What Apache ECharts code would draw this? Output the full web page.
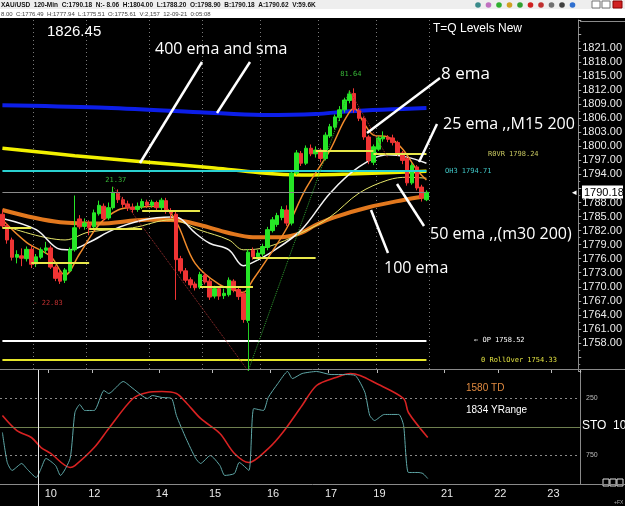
<!DOCTYPE html>
<html><head><meta charset="utf-8">
<script src="https://cdn.jsdelivr.net/npm/echarts@6/dist/echarts.min.js"></script>
<style>html,body{margin:0;padding:0;background:#000;}#c{width:625px;height:506px;}</style>
</head><body><div id="c"></div>
<script>
// ---------- data ----------
const slotCount = 120;
const slots = Array.from({length: slotCount}, (_, i) => String(i));
// [open, close, low, high] for each 120-min bar
const candles = [
[1785.5,1783.0,1782.5,1786.5],[1783.0,1780.0,1779.2,1783.6],[1780.0,1776.3,1775.6,1780.5],[1776.3,1776.9,1775.0,1777.8],
[1776.6,1776.1,1774.4,1778.2],[1776.0,1778.0,1775.4,1778.6],[1778.0,1774.8,1774.0,1778.8],[1774.9,1776.4,1774.2,1777.0],
[1776.3,1777.9,1775.9,1778.4],[1777.8,1778.3,1777.0,1779.6],[1778.3,1774.2,1773.8,1778.8],[1774.2,1771.8,1771.2,1774.6],
[1773.0,1771.2,1770.6,1773.6],[1771.4,1773.6,1770.8,1774.0],[1773.4,1777.9,1773.0,1778.4],[1777.9,1782.6,1777.5,1789.5],
[1784.5,1782.8,1782.3,1785.3],[1782.9,1783.6,1782.2,1784.6],[1783.5,1782.6,1781.0,1784.2],[1782.8,1785.8,1782.4,1786.5],
[1785.6,1787.4,1785.2,1788.4],[1787.2,1784.6,1784.0,1787.8],[1784.7,1786.9,1784.3,1788.0],[1786.9,1790.2,1786.5,1791.37],
[1790.0,1788.6,1787.9,1790.8],[1788.6,1787.6,1786.9,1789.2],[1787.7,1786.9,1786.2,1788.4],[1787.0,1786.5,1785.8,1787.8],
[1786.5,1787.2,1786.0,1788.0],[1787.1,1788.2,1786.6,1788.8],[1788.1,1787.4,1786.8,1788.6],[1787.4,1788.1,1786.9,1788.6],
[1788.0,1786.9,1786.3,1788.4],[1786.9,1788.5,1786.4,1789.0],[1788.4,1786.1,1785.6,1789.0],[1786.2,1785.7,1784.6,1786.8],
[1785.5,1775.8,1767.2,1786.0],[1776.0,1773.4,1772.8,1776.6],[1773.4,1771.4,1770.9,1774.0],[1771.5,1770.4,1769.7,1772.0],
[1770.6,1769.8,1769.2,1771.1],[1769.9,1772.6,1769.5,1773.2],[1772.5,1771.0,1770.5,1773.0],[1771.2,1767.8,1767.2,1771.8],
[1768.0,1769.6,1767.5,1770.2],[1769.6,1768.0,1767.2,1770.0],[1768.1,1768.6,1767.4,1769.6],[1768.3,1771.4,1767.9,1772.0],
[1771.2,1769.3,1768.8,1771.6],[1769.4,1767.9,1767.2,1770.0],[1768.6,1763.0,1762.3,1769.0],[1762.8,1777.4,1762.3,1778.0],
[1777.8,1776.4,1775.8,1778.4],[1776.4,1777.2,1775.7,1777.9],[1777.0,1778.6,1776.5,1779.2],[1778.4,1782.2,1777.8,1782.8],
[1782.0,1784.3,1781.6,1784.9],[1783.3,1785.2,1782.8,1785.8],[1784.8,1786.5,1784.2,1787.2],[1786.4,1783.6,1783.0,1787.4],
[1783.6,1794.3,1783.1,1794.8],[1794.3,1798.6,1793.9,1799.2],[1798.5,1796.4,1795.8,1799.0],[1796.4,1799.6,1796.0,1800.2],
[1799.6,1798.4,1797.9,1800.4],[1798.4,1799.2,1797.6,1800.0],[1799.2,1797.4,1796.6,1799.6],[1797.4,1802.4,1797.0,1803.0],
[1802.2,1804.2,1801.8,1804.8],[1804.1,1806.3,1803.6,1806.8],[1806.2,1807.8,1805.4,1808.6],[1807.8,1809.9,1807.2,1810.4],
[1809.8,1811.2,1809.2,1812.0],[1811.3,1807.8,1807.2,1812.4],[1807.6,1806.0,1805.4,1808.2],[1806.0,1802.0,1801.4,1806.4],
[1802.0,1797.0,1796.2,1802.4],[1796.6,1799.9,1796.0,1800.4],[1799.4,1801.8,1799.0,1802.2],[1801.6,1802.0,1801.0,1803.2],
[1801.9,1801.5,1800.9,1802.4],[1801.8,1800.8,1800.2,1802.5],[1800.8,1798.6,1798.0,1801.2],[1798.6,1797.0,1796.2,1799.0],
[1797.4,1792.2,1791.6,1797.8],[1792.2,1795.9,1791.8,1796.4],[1795.6,1791.1,1790.6,1796.0],[1791.3,1789.0,1788.2,1791.8],
[1788.6,1790.18,1788.3,1790.6]
];
// moving averages: [bar index, price]
const sma400 = [[0,1808.8],[20,1808.3],[41,1807.3],[54,1806.7],[65,1806.9],[72,1807.5],[88,1808.2]];
const ema400 = [[0,1799.6],[15,1798.0],[29,1796.7],[44,1795.4],[53,1794.4],[62,1793.9],[72,1794.1],[88,1794.7]];
const ema100 = [[0,1786.4],[12,1783.8],[20,1783.5],[30,1784.3],[36,1784.2],[41,1783.2],[47,1781.5],[52,1780.6],[58,1780.6],[62,1781.5],[65,1783.2],[69,1784.9],[76,1787.0],[83,1788.5],[88,1789.4]];
const ema25 = [[0,1784.6],[7,1782.2],[12,1778.0],[14,1777.9],[18,1779.5],[23,1782.2],[29,1784.2],[35,1784.9],[37,1784.5],[40,1781.5],[43,1779.3],[47,1777.9],[50,1774.5],[52,1775.2],[56,1777.5],[62,1782.1],[68,1790.0],[74,1795.6],[80,1798.2],[84,1797.7],[88,1796.4]];
const ema50 = [[0,1783.2],[13,1780.0],[18,1781.7],[27,1782.6],[35,1784.3],[41,1782.1],[47,1780.0],[50,1777.9],[55,1778.5],[62,1781.5],[68,1784.9],[74,1790.0],[80,1792.8],[84,1793.4],[88,1793.2]];
const ema8 = [[0,1784.3],[5,1779.5],[10,1776.5],[13,1772.5],[16,1777.0],[20,1783.2],[24,1786.4],[28,1787.0],[33,1787.2],[36,1784.0],[40,1775.0],[45,1770.5],[49,1769.0],[50,1768.8],[52,1771.5],[55,1776.0],[59,1782.5],[63,1791.0],[68,1799.2],[71,1805.6],[73,1808.2],[75,1805.0],[77,1802.4],[80,1802.0],[83,1799.5],[86,1795.0],[88,1792.8]];
// daily level segments [startBar, endBar, price]
const pivotSegments = [[0,6,1782.56],[6,18,1775.09],[18,29,1782.35],[29,41,1786.19],[41,52,1769.96],[52,65,1776.16],[65,77,1799.0],[77,88,1798.36]];
const levelOH3 = 1794.71, levelOP = 1758.52, levelRollover = 1754.33, levelR0VR = 1798.24, lastPrice = 1790.18;
// stochastic (panel scale 0 top .. 1000 bottom)
const stoK = [[0,548],[1,811],[2,881],[4,820],[5,864],[7,943],[8,864],[9,776],[11,838],[12,925],[14,776],[15,373],[16,303],[17,355],[19,355],[21,180],[22,206],[25,101],[27,162],[30,250],[31,224],[33,241],[35,250],[36,399],[38,601],[40,776],[41,820],[43,750],[45,838],[46,925],[48,908],[49,811],[51,881],[52,338],[54,355],[55,241],[57,118],[59,13],[60,75],[62,31],[65,13],[68,40],[71,40],[73,48],[75,197],[76,399],[77,443],[79,390],[82,390],[83,487],[84,899],[86,899],[87,908],[88,952]];
const stoD = [[0,399],[3,531],[6,592],[8,680],[10,732],[14,855],[15,838],[19,680],[22,513],[27,250],[30,197],[33,189],[36,206],[38,285],[41,425],[45,557],[48,732],[51,811],[55,689],[58,548],[62,311],[65,136],[69,66],[72,31],[74,48],[77,110],[83,250],[84,373],[88,592]];
// x axis day ticks and session separators (bar slots)
const dayTickIndex = [10,19,33,44,56,68,78,92,103,114];
const dayTickText = ['10','12','14','15','16','17','19','21','22','23'];
const sessionIndex = [7,18,31,42,54,66,78,89];
const stoLevels = [250, 500, 750];

// ---------- chart ----------
const chart = echarts.init(document.getElementById('c'), null, {renderer: 'canvas'});
const lastBar = candles.length - 1;
const FONT = '"Liberation Sans", Arial, sans-serif';

const levelLines = [];
pivotSegments.forEach(s => levelLines.push([{coord:[s[0], s[2]], lineStyle:{color:'#e8e84a', width:2, type:'solid'}}, {coord:[s[1], s[2]]}]));
levelLines.push([{coord:[0, levelOH3], lineStyle:{color:'#2ad0d0', width:2, type:'solid'}}, {coord:[lastBar, levelOH3]}]);
levelLines.push([{coord:[0, levelOP], lineStyle:{color:'#ffffff', width:2, type:'solid'}}, {coord:[lastBar, levelOP]}]);
levelLines.push([{coord:[0, levelRollover], lineStyle:{color:'#e6e62a', width:2, type:'solid'}}, {coord:[lastBar, levelRollover]}]);
levelLines.push([{coord:[0, lastPrice], lineStyle:{color:'#8a8a8a', width:1, type:'solid'}}, {coord:[lastBar, lastPrice]}]);
// zigzag
levelLines.push([{coord:[23, 1791.37], lineStyle:{color:'#a03030', width:1, type:'dotted'}}, {coord:[51, 1752]}]);
levelLines.push([{coord:[51, 1752], lineStyle:{color:'#30a030', width:1, type:'dotted'}}, {coord:[72, 1812.0]}]);
levelLines.push([{coord:[72, 1812.0], lineStyle:{color:'#a03030', width:1, type:'dotted'}}, {coord:[80, 1797.5]}]);
levelLines.push([{coord:[51, 1762.3], lineStyle:{color:'#22cc22', width:1, type:'solid'}}, {coord:[51, 1752]}]);

function maLine(name, data, color, width) {
  return {name, type:'line', xAxisIndex:0, yAxisIndex:0, data, showSymbol:false, smooth:0.35,
    lineStyle:{color, width}, silent:true, animation:false, z:3};
}

const option = {
  backgroundColor:'#000',
  animation:false,
  grid:[
    {left:0, right:45, top:20, height:351},
    {left:0, right:45, top:370, height:114}
  ],
  xAxis:[
    {type:'category', gridIndex:0, data:slots, boundaryGap:true,
     axisLine:{show:false}, axisTick:{show:false}, axisLabel:{show:false},
     splitLine:{show:true, interval:(i)=>sessionIndex.includes(i), lineStyle:{color:'#7a7a7a', type:[1,3], width:1}}},
    {type:'category', gridIndex:1, data:slots, boundaryGap:true,
     axisLine:{show:false},
     axisTick:{show:true, length:3, interval:(i)=>dayTickIndex.includes(i), lineStyle:{color:'#bbb'}},
     axisLabel:{show:true, interval:(i)=>dayTickIndex.includes(i), color:'#e8e8e8', fontSize:11, fontFamily:FONT, margin:4,
       formatter:(v, i)=>{const k = dayTickIndex.indexOf(i); return k >= 0 ? dayTickText[k] : '';}},
     splitLine:{show:false}}
  ],
  yAxis:[
    {type:'value', gridIndex:0, position:'right', min:1752, max:1827, interval:3,
     axisLine:{show:true, lineStyle:{color:'#8a8a8a'}},
     axisTick:{show:true, length:3, lineStyle:{color:'#aaa'}},
     minorTick:{show:true, splitNumber:2, length:2, lineStyle:{color:'#888'}},
     axisLabel:{color:'#ececec', fontSize:11, fontFamily:FONT, margin:4,
       formatter:(v)=> (v < 1758 || v > 1821 || Math.abs(v - lastPrice) < 1.5) ? '' : v.toFixed(2)},
     splitLine:{show:false}},
    {type:'value', gridIndex:1, position:'right', min:0, max:1000, interval:250, inverse:true,
     axisLine:{show:true, lineStyle:{color:'#8a8a8a'}},
     axisTick:{show:false},
     axisLabel:{color:'#bbb', fontSize:7, fontFamily:FONT, margin:6,
       formatter:(v)=> (v === 250 || v === 750) ? String(v) : ''},
     splitLine:{show:false}}
  ],
  series:[
    maLine('sma400', sma400, '#0c1ee8', 4),
    maLine('ema400', ema400, '#f2f000', 3.5),
    maLine('ema100', ema100, '#e2781e', 4),
    {type:'candlestick', xAxisIndex:0, yAxisIndex:0, data:candles, barWidth:4, z:4,
     itemStyle:{color:'#26e626', color0:'#f03434', borderColor:'#26e626', borderColor0:'#f03434', borderWidth:1},
     markLine:{symbol:'none', silent:true, animation:false, label:{show:false}, data:levelLines}},
    maLine('ema50', ema50, '#e6e66a', 1),
    maLine('ema25', ema25, '#f4f4f4', 1.5),
    maLine('ema8', ema8, '#f08a2a', 1.5),
    {type:'line', xAxisIndex:1, yAxisIndex:1, data:stoD, showSymbol:false, smooth:0.3,
     lineStyle:{color:'#d82222', width:1.6}, animation:false,
     markLine:{symbol:'none', silent:true, animation:false, label:{show:false},
       data: stoLevels.map(v => ({yAxis:v, lineStyle: v === 500 ? {color:'#6f8050', width:1, type:'solid'} : {color:'#8a8a8a', width:1, type:[2,3]}}))}},
    {type:'line', xAxisIndex:1, yAxisIndex:1, data:stoK, showSymbol:false, smooth:0.2,
     lineStyle:{color:'#5fa8a8', width:1}, animation:false}
  ]
};
chart.setOption(option);

const py = v => chart.convertToPixel({yAxisIndex:0}, v);
const px = i => chart.convertToPixel({xAxisIndex:0}, i);
const txt = (x, y, text, fill, font, align, vAlign) => ({type:'text', x, y, silent:true, z:10,
  style:{text, fill, font, textAlign: align || 'left', textVerticalAlign: vAlign || 'middle'}});
const ln = (x1, y1, x2, y2, stroke, w) => ({type:'line', silent:true, z:10, shape:{x1, y1, x2, y2}, style:{stroke, lineWidth:w}});
const HAND = '16px "Open Sans", "DejaVu Sans", sans-serif';
const TINY = '7px "DejaVu Sans Mono", monospace';

const g = [];
// header
g.push({type:'rect', silent:true, shape:{x:0, y:0, width:625, height:9}, style:{fill:'#eeeeee'}});
g.push({type:'rect', silent:true, shape:{x:0, y:9, width:625, height:9}, style:{fill:'#ffffff'}});
g.push(txt(1, 5, 'XAU/USD  120-Min  C:1790.18  N:- 8.06  H:1804.00  L:1788.20  O:1798.90  B:1790.18  A:1790.62  V:59.6K', '#111', 'bold 6.5px ' + FONT));
g.push(txt(1, 14, '8.00  C:1776.49  H:1777.94  L:1775.51  O:1775.61  V:2,157  12-09-21  0:05:08', '#444', '6px ' + FONT));
// header icons
const iconColors = ['#3a8a8a','#c070c0','#30b030','#d0a020','#30a030','#d02020','#c03030','#707070','#404040','#3070d0'];
iconColors.forEach((c, k) => g.push({type:'circle', silent:true, shape:{cx:478 + k*10.5, cy:5, r:2.8}, style:{fill:c}}));
g.push({type:'rect', silent:true, shape:{x:592, y:1, width:8, height:7}, style:{fill:'#fff', stroke:'#777'}});
g.push({type:'rect', silent:true, shape:{x:602, y:1, width:8, height:7}, style:{fill:'#fff', stroke:'#777'}});
g.push({type:'rect', silent:true, shape:{x:613, y:1, width:9, height:7}, style:{fill:'#d02020', stroke:'#800'}});
// panel frame lines
g.push(ln(0, 369.5, 625, 369.5, '#8a8a8a', 1));
g.push(ln(0, 484.5, 625, 484.5, '#8a8a8a', 1));
g.push(ln(580, 21.5, 625, 21.5, '#8a8a8a', 1));
g.push(ln(38.5, 370, 38.5, 506, '#e8e8e8', 1));
// bottom-right boxes
[603, 610, 617].forEach(x => g.push({type:'rect', silent:true, shape:{x, y:479, width:6, height:7}, style:{fill:'none', stroke:'#ddd', lineWidth:1}}));
g.push(txt(614, 503, '+FX', '#aaa', '5px ' + FONT));
// titles
g.push(txt(47, 32, '1826.45', '#ffffff', '15px ' + FONT));
g.push(txt(433, 29, 'T=Q Levels New', '#ffffff', '12px ' + FONT));
// hand annotations
g.push(txt(155, 49, '400 ema and sma', '#ffffff', HAND));
g.push(ln(202, 62, 140, 163, '#ffffff', 2.5));
g.push(ln(250, 62, 217, 113, '#ffffff', 2.5));
g.push(txt(441, 74, '8 ema', '#ffffff', '17px "Open Sans", sans-serif'));
g.push(ln(440, 78, 367, 133, '#ffffff', 2.5));
g.push(txt(443, 124, '25 ema ,,M15 200', '#ffffff', HAND));
g.push(ln(437, 124, 419, 162, '#ffffff', 2.5));
g.push(txt(430, 234, '50 ema ,,(m30 200)', '#ffffff', HAND));
g.push(ln(424, 226, 397, 184, '#ffffff', 2.5));
g.push(txt(384, 268, '100 ema', '#ffffff', HAND));
g.push(ln(388, 253, 371, 210, '#ffffff', 2.5));
// level labels
g.push(txt(488, py(levelR0VR), 'R0VR 1798.24', '#c8c860', TINY));
g.push(txt(445, py(levelOH3), 'OH3 1794.71', '#40c8c8', TINY));
g.push(txt(474, py(levelOP), '\u2190 OP 1758.52', '#ffffff', TINY));
g.push(txt(481, py(levelRollover), '0 RollOver 1754.33', '#e0e040', TINY));
// current price marker
g.push(txt(572, py(lastPrice), '\u25C2', '#ffffff', '9px ' + FONT));
g.push({type:'rect', silent:true, z:10, shape:{x:582, y:Math.round(py(lastPrice)) - 6.5, width:41, height:13}, style:{fill:'#ffffff'}});
g.push(txt(584, py(lastPrice) + 0.5, lastPrice.toFixed(2), '#000000', '11px ' + FONT));
// swing labels
g.push(txt(px(23) - 8, py(1791.37) - 7, '21.37', '#38b838', TINY));
g.push(txt(px(72) - 9, py(1812.4) - 14, '81.64', '#38b838', TINY));
g.push(txt(px(12) - 27, py(1770.6) + 19, '- 22.83', '#c03030', TINY));
// sto panel texts
g.push(txt(466, 388, '1580 TD', '#e08a40', '10px ' + FONT));
g.push(txt(466, 410, '1834 YRange', '#ffffff', '10px ' + FONT));
g.push(txt(582, 426, 'STO  10,3,3', '#ffffff', '12px ' + FONT));
chart.setOption({graphic: g});
</script>
</body></html>
